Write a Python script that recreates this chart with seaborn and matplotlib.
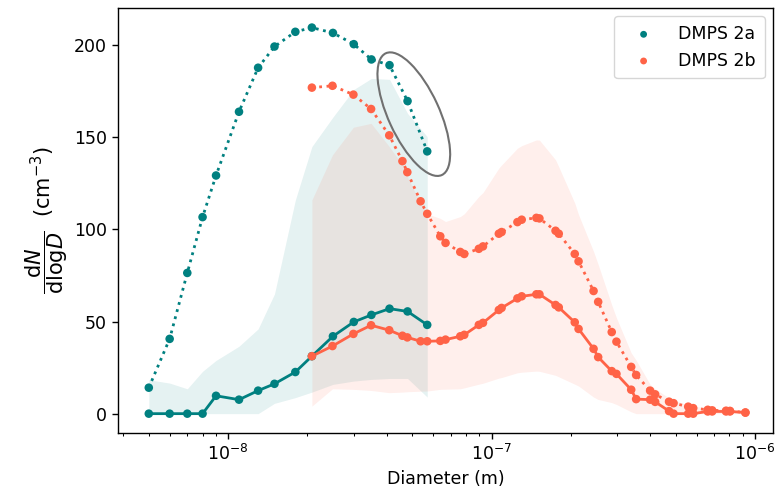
import numpy as np
import pandas as pd
import matplotlib
matplotlib.use("Agg")
import matplotlib.pyplot as plt
import matplotlib.transforms as mtransforms
from matplotlib.patches import Ellipse
import seaborn as sns

# ---------------- data ----------------
labels = ["DMPS 2a", "DMPS 2b"]
colors = ["#008080", "#FF6347"]

d2a = [5.0e-9, 6.0e-9, 7.0e-9, 8.0e-9, 9.0e-9, 1.1e-8, 1.3e-8, 1.5e-8, 1.8e-8,
       2.08e-8, 2.5e-8, 3.0e-8, 3.5e-8, 4.1e-8, 4.8e-8, 5.7e-8]
a_upper = [14.1, 40.6, 76.4, 106.7, 129.3, 163.9, 187.8, 199.3, 207.3,
           209.6, 206.7, 200.6, 192.3, 189.2, 169.7, 142.4]
a_lower = [0, 0, 0, 0, 9.7, 7.6, 12.5, 16.2, 22.6,
           31.2, 42.0, 49.8, 53.6, 57.0, 55.5, 48.2]
a_band_hi = [18.4, 16.6, 13.5, 23.0, 28.9, 36.6, 46.0, 65.0, 116.0,
             145.0, 161.0, 176.0, 182.0, 181.5, 163.0, 150.4]
a_band_lo = [0, 0, 0, 0, 0, 0, 0, 5.6, 8.7,
             11.7, 15.9, 17.7, 18.6, 19.1, 19.1, 9.0]

d2b = [2.08e-8, 2.49e-8, 2.99e-8, 3.49e-8, 4.09e-8, 4.59e-8, 4.79e-8, 5.38e-8,
       5.70e-8, 6.39e-8, 6.69e-8, 7.61e-8, 7.88e-8, 8.95e-8, 9.28e-8, 1.066e-7,
       1.092e-7, 1.254e-7, 1.302e-7, 1.48e-7, 1.52e-7, 1.75e-7, 1.80e-7, 2.07e-7,
       2.14e-7, 2.44e-7, 2.54e-7, 2.86e-7, 2.98e-7, 3.39e-7, 3.54e-7, 4.00e-7,
       4.18e-7, 4.72e-7, 4.91e-7, 5.58e-7, 5.83e-7, 6.62e-7, 6.88e-7, 7.77e-7,
       8.04e-7, 9.20e-7]
b_upper = [177.0, 178.0, 173.2, 165.4, 151.1, 137.1, 131.1, 115.3,
           108.5, 96.3, 92.7, 87.8, 86.7, 89.5, 90.8, 97.7,
           98.6, 104.0, 105.3, 106.3, 106.0, 99.3, 97.7, 86.7,
           82.7, 66.6, 60.7, 44.3, 39.1, 25.4, 21.0, 12.5,
           10.5, 6.5, 5.7, 3.8, 3.0, 2.1, 1.8, 1.6,
           1.5, 0.6]
b_lower = [31.2, 36.7, 43.3, 48.0, 45.3, 42.3, 41.4, 39.3,
           39.3, 39.5, 40.2, 42.0, 42.8, 48.2, 49.3, 56.3,
           57.4, 62.6, 63.7, 64.8, 64.8, 59.0, 57.7, 49.6,
           46.0, 35.2, 30.7, 23.1, 21.6, 13.0, 7.9, 7.6,
           6.4, 1.4, 0.0, 0.0, 0.0, 1.2, 1.2, 1.2,
           1.2, 0.6]
b_band_hi = [116.0, 140.5, 155.5, 157.6, 145.0, 135.0, 128.7, 114.0,
             108.5, 106.0, 104.3, 107.0, 108.5, 117.9, 120.0, 133.3,
             135.0, 144.1, 145.5, 148.6, 148.5, 137.8, 134.0, 114.3,
             108.0, 88.0, 81.0, 59.0, 52.0, 33.0, 29.0, 15.9,
             13.5, 8.5, 7.5, 4.5, 4.0, 3.2, 3.0, 2.3,
             2.2, 1.0]
b_band_lo = [4.1, 13.5, 13.2, 12.6, 11.4, 11.7, 11.9, 12.2,
             12.3, 13.2, 13.3, 13.5, 14.0, 16.0, 16.5, 19.3,
             19.6, 22.2, 22.5, 23.1, 23.0, 20.8, 20.0, 16.0,
             15.0, 9.0, 7.7, 6.0, 5.0, 1.0, 0.0, 0.0,
             0.0, 0.0, 0.0, 0.0, 0.0, 0.0, 0.0, 0.0,
             0.0, 0.0]

xlabel = "Diameter (m)"
ylabel = r"$\dfrac{\mathrm{d}N}{\mathrm{dlog}D}$  (cm$^{-3}$)"

# ellipse annotation (data-coordinate centre, size in inches)
ell_center = (5.07e-8, 162.6)
ell_size = (1.34, 0.51)
ell_angle = -65.3

# ---------------- plot ----------------
S = 1.25  # scale factor
plt.rcParams["font.size"] = 10 * S
plt.rcParams["axes.linewidth"] = 0.8 * S
for ax_ in ("xtick", "ytick"):
    plt.rcParams[f"{ax_}.major.size"] = 3.5 * S
    plt.rcParams[f"{ax_}.minor.size"] = 2.0 * S
    plt.rcParams[f"{ax_}.major.width"] = 0.8 * S
    plt.rcParams[f"{ax_}.minor.width"] = 0.6 * S

fig = plt.figure(figsize=(7.77, 4.97), dpi=100)
ax = fig.add_axes([118 / 777, 1 - 433 / 497, (773.3 - 118) / 777, (433 - 7.5) / 497])

series = [
    (d2a, a_upper, a_lower, a_band_lo, a_band_hi),
    (d2b, b_upper, b_lower, b_band_lo, b_band_hi),
]

for (x, up, lo, blo, bhi), lab, c in zip(series, labels, colors):
    ax.fill_between(x, blo, bhi, color=c, alpha=0.1, linewidth=0, zorder=1)

for (x, up, lo, blo, bhi), lab, c in zip(series, labels, colors):
    df = pd.DataFrame({"x": x, "up": up, "lo": lo})
    sns.lineplot(data=df, x="x", y="up", ax=ax, color=c, linestyle=":",
                 linewidth=2, sort=False, estimator=None, legend=False, zorder=2)
    sns.lineplot(data=df, x="x", y="lo", ax=ax, color=c, linestyle="-",
                 linewidth=2, sort=False, estimator=None, legend=False, zorder=2)
    sns.scatterplot(data=df, x="x", y="up", ax=ax, color=c, s=38,
                    edgecolor="none", label=lab, zorder=3)
    sns.scatterplot(data=df, x="x", y="lo", ax=ax, color=c, s=38,
                    edgecolor="none", zorder=3)

ax.set_xscale("log")
ax.set_xlim(3.82e-9, 1.174e-6)
ax.set_ylim(-10.5, 220.5)
ax.set_yticks([0, 50, 100, 150, 200])
ax.set_xlabel(xlabel, fontsize=10 * S)
ax.set_ylabel(ylabel, fontsize=15, labelpad=3)
ax.tick_params(labelsize=10 * S)

trans = fig.dpi_scale_trans + mtransforms.ScaledTranslation(ell_center[0], ell_center[1], ax.transData)
ell = Ellipse((0, 0), width=ell_size[0], height=ell_size[1], angle=ell_angle,
              transform=trans, fill=False, edgecolor="#707070", linewidth=1.5, zorder=4)
ax.add_patch(ell)

ax.legend(loc="upper right", fontsize=10 * S, markerscale=0.8, borderpad=0.5,
          handlelength=2.4)

fig.savefig("out.png", dpi=100)
